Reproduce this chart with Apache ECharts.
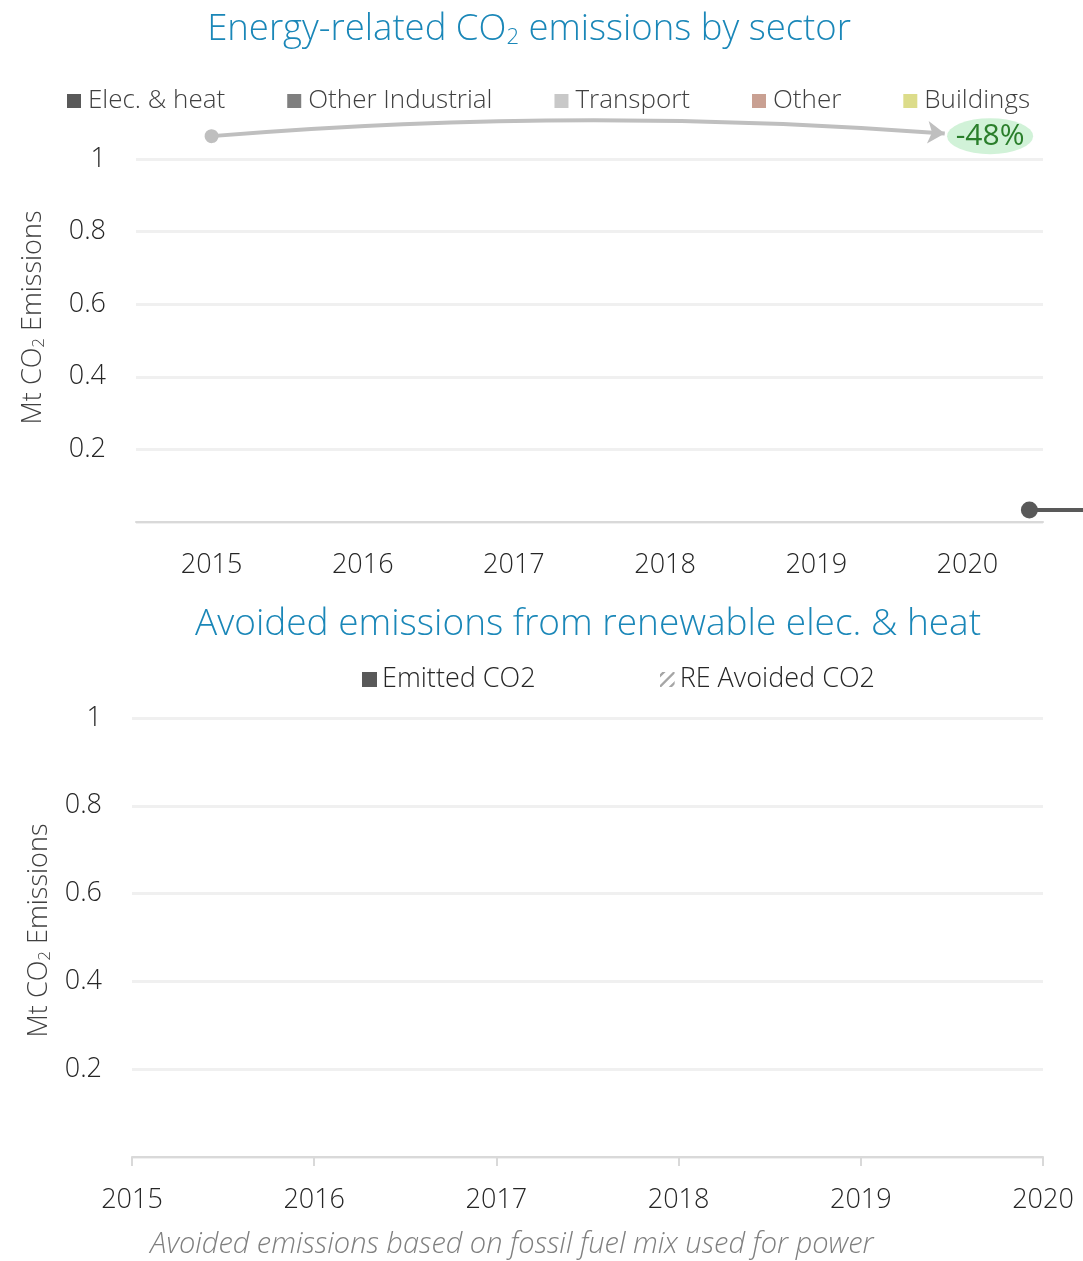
<!DOCTYPE html>
<html>
<head>
<meta charset="utf-8">
<script src="https://cdn.jsdelivr.net/npm/echarts@6/dist/echarts.min.js"></script>
<style>html,body{margin:0;padding:0;background:#fff}#c{width:1083px;height:1261px}</style>
</head>
<body>
<div id="c"></div>
<script>
// ---- data ----
const years = ['2015', '2016', '2017', '2018', '2019', '2020'];
const sectorNames = ['Elec. & heat', 'Other Industrial', 'Transport', 'Other', 'Buildings'];
const elecHeat = [];
const otherIndustrial = [];
const transport = [];
const other = [];
const buildings = [];
const avoidedNames = ['Emitted CO2', 'RE Avoided CO2'];
const emittedCO2 = [];
const reAvoidedCO2 = [];
const yTicks = [0, 0.2, 0.4, 0.6, 0.8, 1];
// annotation: change arrow (x as category index, y in Mt)
const changeArrow = [[0, 1.063], [4.85, 1.07]];
const changeLabel = { x: 5.15, y: 1.063, text: '-48%' };
const strayMarker = [[5.41, 0.033], [5.9, 0.033]];

const FONT = "'Open Sans', 'Noto Sans', sans-serif";
const sectorColors = ['#595959', '#7f7f7f', '#c8c8c8', '#c9a092', '#dcdc8a'];
const sectorData = [elecHeat, otherIndustrial, transport, other, buildings];

const hatchSvg = "<svg xmlns='http://www.w3.org/2000/svg' width='14' height='14'><rect width='14' height='14' fill='#fff'/><path d='M-2 6L6 -2M0 14L14 0M8 16L16 8' stroke='#a6a6a6' stroke-width='2.2'/></svg>";
const hatchIcon = 'image://data:image/svg+xml;charset=utf-8,' + encodeURIComponent(hatchSvg);

const chart = echarts.init(document.getElementById('c'), null, { renderer: 'canvas' });

const axisLabelStyle = { color: '#262626', fontSize: 27, fontFamily: FONT, fontWeight: 300 };
const yName = '{a|Mt CO}{s|2}{a| Emissions}';
function yNameStyle(shift) {
  return {
    padding: [0, 0, 0, shift],
    rich: {
      a: { fontSize: 27, color: '#404040', fontFamily: FONT, fontWeight: 300 },
      s: { fontSize: 17, color: '#404040', fontFamily: FONT, fontWeight: 300, padding: [12, 0, 0, 0] }
    }
  };
}

const series = [];
sectorNames.forEach((n, i) => {
  series.push({ name: n, type: 'bar', stack: 's', xAxisIndex: 0, yAxisIndex: 0, data: sectorData[i], itemStyle: { color: sectorColors[i] } });
});
series.push({
  type: 'lines', coordinateSystem: 'cartesian2d', xAxisIndex: 2, yAxisIndex: 0, clip: false, silent: true,
  symbol: ['circle', 'arrow'], symbolSize: [14, 17],
  lineStyle: { color: '#bfbfbf', width: 4, curveness: 0.04, opacity: 1 },
  data: [{ coords: changeArrow }]
});
series.push({
  type: 'scatter', xAxisIndex: 2, yAxisIndex: 0, clip: false, silent: true,
  symbol: 'circle', symbolSize: [86, 36],
  itemStyle: { color: '#c6efce' },
  label: { show: true, position: 'inside', formatter: changeLabel.text, color: '#006100', fontSize: 30, fontFamily: FONT },
  data: [[changeLabel.x, changeLabel.y]]
});
series.push({
  type: 'lines', coordinateSystem: 'cartesian2d', xAxisIndex: 2, yAxisIndex: 0, clip: false, silent: true,
  symbol: ['circle', 'none'], symbolSize: [17, 1],
  lineStyle: { color: '#595959', width: 4, curveness: 0, opacity: 1 },
  data: [{ coords: strayMarker }]
});
series.push({ name: avoidedNames[0], type: 'bar', stack: 'a', xAxisIndex: 1, yAxisIndex: 1, data: emittedCO2, itemStyle: { color: '#595959' } });
series.push({ name: avoidedNames[1], type: 'bar', stack: 'a', xAxisIndex: 1, yAxisIndex: 1, data: reAvoidedCO2, itemStyle: { color: '#bfbfbf' } });

const option = {
  backgroundColor: '#fff',
  animation: false,
  legend: [
    {
      data: sectorNames, left: 62, top: 83, itemWidth: 14, itemHeight: 14, itemGap: 62, icon: 'rect',
      textStyle: { color: '#404040', fontSize: 26, fontFamily: FONT, fontWeight: 300, padding: [0, 0, 0, 2] }
    },
    {
      data: [{ name: avoidedNames[0], icon: 'rect' }, { name: avoidedNames[1], icon: hatchIcon }],
      left: 357, top: 661, itemWidth: 15, itemHeight: 15, itemGap: 124,
      textStyle: { color: '#262626', fontSize: 27, fontFamily: FONT, fontWeight: 300, padding: [0, 0, 0, 0] }
    }
  ],
  grid: [
    { left: 136, right: 40, top: 159, height: 363 },
    { left: 132, right: 40, top: 718, height: 439 }
  ],
  xAxis: [
    {
      type: 'category', gridIndex: 0, data: years, boundaryGap: true,
      axisLine: { lineStyle: { color: '#d9d9d9', width: 2 } }, axisTick: { show: false },
      axisLabel: Object.assign({ margin: 30 }, axisLabelStyle)
    },
    {
      type: 'category', gridIndex: 1, data: years, boundaryGap: false,
      axisLine: { lineStyle: { color: '#d9d9d9', width: 2 } },
      axisTick: { show: true, length: 9, lineStyle: { color: '#d9d9d9', width: 2 } },
      axisLabel: Object.assign({ margin: 30 }, axisLabelStyle)
    },
    { type: 'value', gridIndex: 0, min: -0.5, max: 5.5, show: false }
  ],
  yAxis: [
    {
      type: 'value', gridIndex: 0, min: 0, max: 1, interval: 0.2,
      name: yName, nameLocation: 'middle', nameGap: 88, nameRotate: 90, nameTextStyle: yNameStyle(46),
      axisLine: { show: false }, axisTick: { show: false },
      axisLabel: Object.assign({ margin: 30, formatter: v => (v === 0 ? '' : String(+v.toFixed(1))) }, axisLabelStyle),
      splitLine: { lineStyle: { color: '#f0f0f0', width: 3 } }
    },
    {
      type: 'value', gridIndex: 1, min: 0, max: 1, interval: 0.2,
      name: yName, nameLocation: 'middle', nameGap: 76, nameRotate: 90, nameTextStyle: yNameStyle(14),
      axisLine: { show: false }, axisTick: { show: false },
      axisLabel: Object.assign({ margin: 30, formatter: v => (v === 0 ? '' : String(+v.toFixed(1))) }, axisLabelStyle),
      splitLine: { lineStyle: { color: '#f0f0f0', width: 3 } }
    }
  ],
  graphic: [
    {
      type: 'text', x: 529, y: 30, z: 10,
      style: {
        text: '{a|Energy-related CO}{s|2}{a| emissions by sector}',
        align: 'center', verticalAlign: 'middle',
        rich: {
          a: { fontSize: 36.5, fontFamily: FONT, fontWeight: 300, fill: '#1a87b8' },
          s: { fontSize: 22, fontFamily: FONT, fontWeight: 300, fill: '#1a87b8', padding: [16, 0, 0, 0] }
        }
      }
    },
    {
      type: 'text', x: 588, y: 624, z: 10,
      style: { text: 'Avoided emissions from renewable elec. & heat', fontSize: 37, fontFamily: FONT, fontWeight: 300, fill: '#1a87b8', align: 'center', verticalAlign: 'middle' }
    },
    {
      type: 'text', x: 512, y: 1245, z: 10,
      style: { text: 'Avoided emissions based on fossil fuel mix used for power', fontSize: 29, fontFamily: FONT, fontWeight: 300, fontStyle: 'italic', fill: '#7f7f7f', align: 'center', verticalAlign: 'middle' }
    }
  ],
  series: series
};
chart.setOption(option);
</script>
</body>
</html>
